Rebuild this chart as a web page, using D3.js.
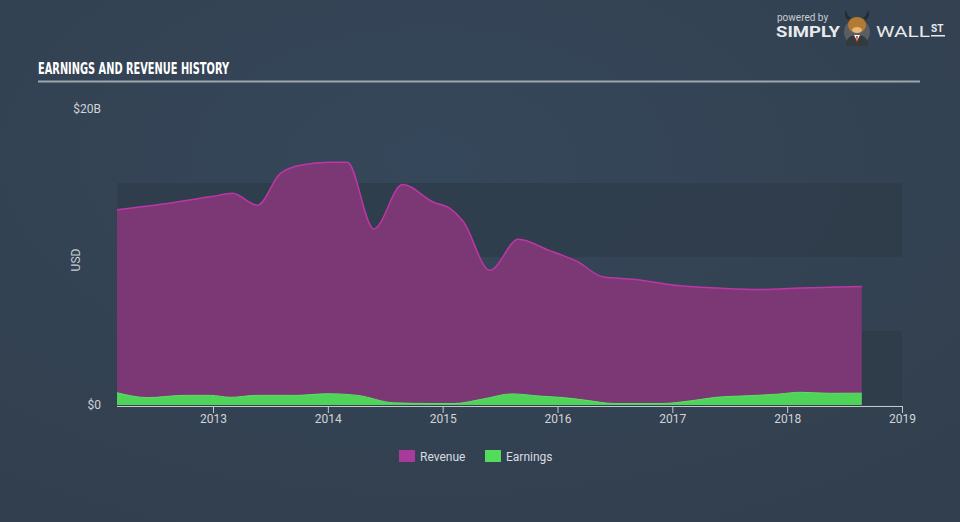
<!DOCTYPE html>
<html><head><meta charset="utf-8">
<script src="https://cdn.jsdelivr.net/npm/d3@7/dist/d3.min.js"></script>
<style>html,body{margin:0;padding:0;background:#344354;}svg{display:block;}</style>
</head><body>
<script>
// ---- data (values in USD billions, dates as decimal years) ----
const revenueDates = [2012.164, 2012.63, 2013.0, 2013.17, 2013.39, 2013.58, 2013.76, 2014.02, 2014.17, 2014.40, 2014.65, 2014.92, 2015.06, 2015.18, 2015.41, 2015.66, 2015.91, 2016.17, 2016.40, 2016.66, 2017.07, 2017.40, 2017.76, 2018.11, 2018.37, 2018.65];
const revenueValues = [13.2, 13.65, 14.1, 14.3, 13.5, 15.6, 16.2, 16.4, 16.4, 11.9, 14.9, 13.7, 13.3, 12.4, 9.1, 11.2, 10.5, 9.7, 8.65, 8.5, 8.05, 7.9, 7.8, 7.9, 7.95, 8.0];
const earningsDates = [2012.164, 2012.43, 2012.75, 2012.98, 2013.15, 2013.38, 2013.72, 2014.0, 2014.26, 2014.57, 2014.9, 2015.1, 2015.35, 2015.6, 2015.85, 2016.05, 2016.22, 2016.5, 2016.9, 2017.18, 2017.38, 2017.67, 2017.93, 2018.11, 2018.37, 2018.65];
const earningsValues = [0.83, 0.5, 0.65, 0.65, 0.52, 0.65, 0.65, 0.76, 0.65, 0.15, 0.1, 0.1, 0.4, 0.75, 0.6, 0.5, 0.35, 0.1, 0.1, 0.3, 0.52, 0.63, 0.74, 0.86, 0.79, 0.8];
const yTickValues = [0, 20];
const yTickLabels = ["$0", "$20B"];
const xTickYears = [2013, 2014, 2015, 2016, 2017, 2018, 2019];
const bandEdges = [0, 5, 10, 15];
const seriesNames = ["Revenue", "Earnings"];

const W = 960, H = 522;
const svg = d3.select("body").append("svg").attr("width", W).attr("height", H);

const defs = svg.append("defs");
const bg = defs.append("radialGradient").attr("id", "bg").attr("cx", "45%").attr("cy", "30%").attr("r", "80%");
bg.append("stop").attr("offset", "0%").attr("stop-color", "#35475a");
bg.append("stop").attr("offset", "100%").attr("stop-color", "#323f4e");
svg.append("rect").attr("width", W).attr("height", H).attr("fill", "url(#bg)");

const x = d3.scaleLinear().domain([2013, 2019]).range([213, 902]);
const y = d3.scaleLinear().domain([0, 20]).range([405, 109]);
const plotLeft = x(revenueDates[0]);

// bands
const bands = [[bandEdges[0], bandEdges[1]], [bandEdges[2], bandEdges[3]]];
svg.selectAll("rect.band").data(bands).enter().append("rect")
  .attr("class", "band")
  .attr("x", plotLeft).attr("width", x(2019) - plotLeft)
  .attr("y", d => y(d[1])).attr("height", d => y(d[0]) - y(d[1]))
  .attr("fill", "#2e3c4a").attr("opacity", 0.8);

const rev = revenueDates.map((d, i) => ({t: d, v: revenueValues[i]}));
const ern = earningsDates.map((d, i) => ({t: d, v: earningsValues[i]}));
const curve = d3.curveMonotoneX;

svg.append("path").datum(rev)
  .attr("d", d3.area().curve(curve).x(d => x(d.t)).y0(y(0)).y1(d => y(d.v)))
  .attr("fill", "#7b3874");
svg.append("path").datum(rev)
  .attr("d", d3.line().curve(curve).x(d => x(d.t)).y(d => y(d.v)))
  .attr("fill", "none").attr("stroke", "#bd36a6").attr("stroke-width", 1.5);

svg.append("path").datum(ern)
  .attr("d", d3.area().curve(curve).x(d => x(d.t)).y0(y(0)).y1(d => y(d.v)))
  .attr("fill", "#4fd459");
svg.append("path").datum(ern)
  .attr("d", d3.line().curve(curve).x(d => x(d.t)).y(d => y(d.v)))
  .attr("fill", "none").attr("stroke", "#58e362").attr("stroke-width", 1);

// x axis
const xAxis = d3.axisBottom(x).tickValues(xTickYears).tickFormat(d3.format("d")).tickSize(7).tickSizeOuter(0);
const gx = svg.append("g").attr("transform", `translate(0,${y(0) + 1})`).call(xAxis);
gx.select(".domain").attr("stroke", "#c3c9cf").attr("stroke-width", 1.2)
  .attr("d", `M${plotLeft},0.5H${x(2019)}`);
gx.selectAll(".tick line").attr("stroke", "#c3c9cf");
gx.selectAll(".tick text").attr("fill", "#d0d4d8").attr("font-family", "Roboto, 'Open Sans', sans-serif")
  .attr("font-size", 12).attr("dy", "0.3em").attr("y", 13);

// y labels
svg.selectAll("text.ylab").data(yTickValues).enter().append("text")
  .attr("class", "ylab").attr("x", 101).attr("y", d => y(d) + 4)
  .attr("text-anchor", "end").attr("fill", "#d0d4d8")
  .attr("font-family", "Roboto, 'Open Sans', sans-serif").attr("font-size", 12)
  .text((d, i) => yTickLabels[i]);
svg.append("text").attr("transform", "translate(80,260) rotate(-90)")
  .attr("text-anchor", "middle").attr("fill", "#c8ccd0")
  .attr("font-family", "Roboto, 'Open Sans', sans-serif").attr("font-size", 12).text("USD");

// title
svg.append("text").attr("x", 38).attr("y", 74)
  .attr("fill", "#ffffff").attr("font-family", "'Liberation Sans Narrow', 'DejaVu Sans Condensed', sans-serif")
  .attr("font-weight", "bold").attr("font-size", 16).attr("textLength", 191).attr("lengthAdjust", "spacingAndGlyphs")
  .text("EARNINGS AND REVENUE HISTORY");
svg.append("rect").attr("x", 38).attr("y", 80.5).attr("width", 882).attr("height", 2).attr("fill", "#9ea6ae");

// legend
const legendColors = ["#a83a9a", "#52dc5c"];
const lg = svg.append("g").selectAll("g").data(seriesNames).enter().append("g")
  .attr("transform", (d, i) => `translate(${i === 0 ? 399 : 485},450)`);
lg.append("rect").attr("width", 16).attr("height", 12).attr("fill", (d, i) => legendColors[i]);
lg.append("text").attr("x", 21).attr("y", 11).attr("fill", "#d8dce0")
  .attr("font-family", "Roboto, 'Open Sans', sans-serif").attr("font-size", 12).text(d => d);

// logo
const logo = svg.append("g");
logo.append("text").attr("x", 777).attr("y", 21).attr("fill", "#c8ccd0")
  .attr("font-family", "Roboto, sans-serif").attr("font-size", 10).text("powered by");
logo.append("text").attr("x", 776).attr("y", 37).attr("fill", "#e8eaec")
  .attr("font-family", "Roboto, sans-serif").attr("font-weight", "bold").attr("font-size", 15)
  .attr("textLength", 64).attr("lengthAdjust", "spacingAndGlyphs").text("SIMPLY");
logo.append("circle").attr("cx", 857).attr("cy", 32).attr("r", 13).attr("fill", "#5a5e63");
logo.append("path").attr("d", "M846,46 Q846,35 857,35 Q868,35 868,46 Z").attr("fill", "#35383c");
logo.append("path").attr("d", "M854,35 L857,41 L860,35 Z").attr("fill", "#ffffff");
logo.append("path").attr("d", "M856,36 L858,36 L857,44 Z").attr("fill", "#d24a2a");
logo.append("path").attr("d", "M848,20 Q843,15 846,10 Q847,16 851,18 Z M866,20 Q871,15 868,10 Q867,16 863,18 Z").attr("fill", "#2a2a2a");
logo.append("ellipse").attr("cx", 857).attr("cy", 25).attr("rx", 9).attr("ry", 8).attr("fill", "#b37a33");
logo.append("ellipse").attr("cx", 857).attr("cy", 30).attr("rx", 5).attr("ry", 3).attr("fill", "#e3b878");
logo.append("text").attr("x", 876).attr("y", 37).attr("fill", "#e8eaec")
  .attr("font-family", "Roboto, sans-serif").attr("font-size", 15)
  .attr("textLength", 54).attr("lengthAdjust", "spacingAndGlyphs").text("WALL");
logo.append("text").attr("x", 931).attr("y", 32).attr("fill", "#e8eaec")
  .attr("font-family", "Roboto, sans-serif").attr("font-weight", "bold").attr("font-size", 10).text("ST");
logo.append("rect").attr("x", 931).attr("y", 35).attr("width", 14).attr("height", 1.5).attr("fill", "#e8eaec");
</script>
</body></html>
